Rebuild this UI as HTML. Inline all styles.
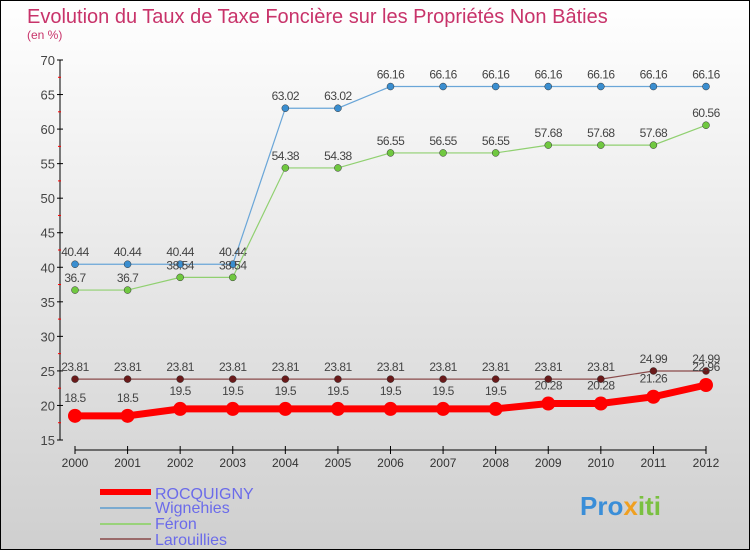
<!DOCTYPE html>
<html><head><meta charset="utf-8"><style>
body{margin:0}
svg{display:block;font-family:"Liberation Sans",sans-serif}
</style></head><body>
<svg width="750" height="550" viewBox="0 0 750 550">
<defs><linearGradient id="bg" x1="0" y1="0" x2="0" y2="1"><stop offset="0" stop-color="#ffffff"/><stop offset="1" stop-color="#cfcfcf"/></linearGradient></defs>
<rect x="0.5" y="0.5" width="749" height="549" fill="url(#bg)" stroke="#000"/>
<text x="27" y="23" font-size="20" fill="#c8336a">Evolution du Taux de Taxe Foncière sur les Propriétés Non Bâties</text>
<text x="27" y="39" font-size="12" fill="#c8336a">(en %)</text>
<g id="axes"></g>
<g id="series"></g>
<g>
<rect x="100" y="489" width="51" height="6" fill="#ff0000"/>
<text x="155" y="499" font-size="16" fill="#6b6bea">ROCQUIGNY</text>
<rect x="100" y="507" width="51" height="2" fill="#7aaad0"/>
<text x="155" y="513" font-size="16" fill="#6b6bea">Wignehies</text>
<rect x="100" y="523" width="51" height="2" fill="#99d27a"/>
<text x="155" y="529" font-size="16" fill="#6b6bea">Féron</text>
<rect x="100" y="538" width="51" height="2" fill="#9a6a6a"/>
<text x="155" y="545" font-size="16" fill="#6b6bea">Larouillies</text>
</g>
<g><text x="580" y="515" font-size="26" font-weight="bold" fill="#3a8ed8">Pro<tspan fill="#f0a020">x</tspan><tspan fill="#7ac040">iti</tspan></text></g>
</svg>
<script>
const years=[2000,2001,2002,2003,2004,2005,2006,2007,2008,2009,2010,2011,2012];
const rocquigny=[18.5,18.5,19.5,19.5,19.5,19.5,19.5,19.5,19.5,20.28,20.28,21.26,22.96];
const wignehies=[40.44,40.44,40.44,40.44,63.02,63.02,66.16,66.16,66.16,66.16,66.16,66.16,66.16];
const feron=[36.7,36.7,38.54,38.54,54.38,54.38,56.55,56.55,56.55,57.68,57.68,57.68,60.56];
const larouillies=[23.81,23.81,23.81,23.81,23.81,23.81,23.81,23.81,23.81,23.81,23.81,24.99,24.99];
const yTicks=[15,20,25,30,35,40,45,50,55,60,65,70];
const NS='http://www.w3.org/2000/svg';
const x0=75,x1=706,yTop=60,yBot=440,vMin=15,vMax=70;
const xs=i=>x0+(x1-x0)*i/(years.length-1);
const ys=v=>yBot-(v-vMin)/(vMax-vMin)*(yBot-yTop);
function mk(tag,attrs,parent,txt){const e=document.createElementNS(NS,tag);for(const k in attrs)e.setAttribute(k,attrs[k]);if(txt!==undefined)e.textContent=txt;parent.appendChild(e);return e;}
const ax=document.getElementById('axes');
let e=mk('line',{x1:60,y1:yTop,x2:60,y2:yBot,stroke:'#000'},ax);


yTicks.forEach(v=>{
 mk('line',{x1:57,y1:ys(v),x2:63,y2:ys(v),stroke:'#000'},ax);
 if(v<vMax) mk('line',{x1:58,y1:ys(v+2.5),x2:61,y2:ys(v+2.5),stroke:'#f00'},ax);
 const t=mk('text',{x:55,y:ys(v)+5,'font-size':13,fill:'#444','text-anchor':'end'},ax,String(v));
 
 
});
e=mk('line',{x1:x0,y1:450,x2:x1,y2:450,stroke:'#000'},ax);


years.forEach((y,i)=>{
 mk('line',{x1:xs(i),y1:446,x2:xs(i),y2:454,stroke:'#000'},ax);
 const t=mk('text',{x:xs(i),y:467,'font-size':12,fill:'#333','text-anchor':'middle'},ax,String(y));
 
 
});
const sg=document.getElementById('series');
function series(name,data,color,w,r,fill,dy){
 const g=mk('g',{},sg);
 
 
 const l=mk('polyline',{points:data.map((v,i)=>xs(i)+','+ys(v)).join(' '),fill:'none',stroke:color,'stroke-width':w},g);
 
 
 data.forEach((v,i)=>{
  const c=mk('circle',{cx:xs(i),cy:ys(v),r:r,fill:fill,stroke:fill==='#ff0000'?'none':'#333','stroke-width':0.5},g);
  
  
  const t=mk('text',{x:xs(i),y:ys(v)-dy,'font-size':12,fill:'#444','text-anchor':'middle','letter-spacing':'-0.5'},g,String(v));
  
  
 });
}
series('wignehies',wignehies,'#6aa6d8',1.2,3.5,'#3a8ed0',8);
series('feron',feron,'#90d070',1.2,3.5,'#70c840',8);
series('larouillies',larouillies,'#8a4a4a',1.2,3.5,'#6a1a1a',8);
series('rocquigny',rocquigny,'#ff0000',7,7,'#ff0000',14);
</script>
</body></html>
